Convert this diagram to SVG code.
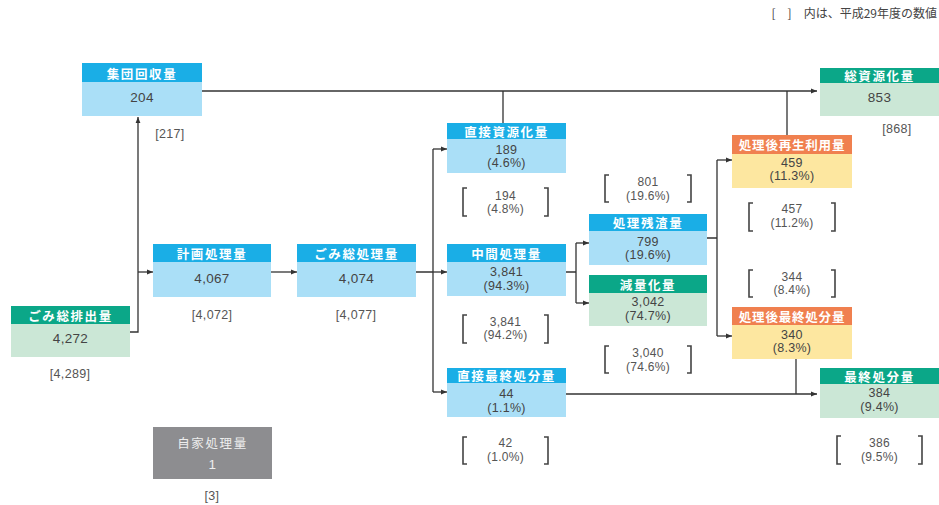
<svg xmlns="http://www.w3.org/2000/svg" width="939" height="505" viewBox="0 0 939 505">
<defs>
<marker id="arr" viewBox="0 0 6 6" refX="6" refY="3" markerWidth="6" markerHeight="6" markerUnits="userSpaceOnUse" orient="auto">
<path d="M0,0.6 L6,3 L0,5.4 Z" fill="#333"/>
</marker>
<style>
text{font-family:"Liberation Sans","Noto Sans CJK JP",sans-serif;}
.hb{fill:#1aaee6;}
.bb{fill:#aadff7;}
.hg{fill:#0ba788;}
.bg{fill:#cbe7d6;}
.ho{fill:#f0804f;}
.bo{fill:#fde7a0;}
.gr{fill:#8d8d90;}
.ht{font-family:"Noto Sans CJK JP",sans-serif;font-size:12.5px;font-weight:bold;fill:#fff;text-anchor:middle;dominant-baseline:central;letter-spacing:1.6px;}
.vt{font-size:13.5px;fill:#444;text-anchor:middle;dominant-baseline:central;letter-spacing:0.3px;}
.v2{font-size:12.5px;fill:#444;text-anchor:middle;dominant-baseline:central;letter-spacing:0.3px;}
.nt{font-size:12.5px;fill:#555;text-anchor:middle;dominant-baseline:central;letter-spacing:0.3px;}
.n2{font-size:12px;fill:#555;text-anchor:middle;dominant-baseline:central;letter-spacing:0.3px;}
.ln{fill:none;stroke:#333;stroke-width:1.3;}
.ar{fill:none;stroke:#333;stroke-width:1.3;marker-end:url(#arr);}
.br{fill:none;stroke:#444;stroke-width:1.6;}
</style>
</defs>
<rect width="939" height="505" fill="#fff"/>
<text x="937" y="12" style="font-family:'Noto Sans CJK JP',sans-serif;font-size:12px;fill:#444;text-anchor:end;dominant-baseline:central;">[　]　内は、平成29年度の数値</text>

<g id="connectors">
<path class="ar" d="M130,332 H138 V117"/>
<path class="ar" d="M138,272 H153"/>
<path class="ar" d="M271,272 H297"/>
<path class="ln" d="M416,272 H433 M433,149 V392"/>
<path class="ar" d="M433,149 H447"/>
<path class="ar" d="M433,272 H447"/>
<path class="ar" d="M433,392 H447"/>
<path class="ar" d="M202,91 H817"/>
<path class="ln" d="M503,123 V91 M787,135 V91"/>
<path class="ln" d="M566,272 H576 M576,243 V303"/>
<path class="ar" d="M576,243 H589"/>
<path class="ar" d="M576,303 H589"/>
<path class="ln" d="M707,238 H717 M717,160 V336"/>
<path class="ar" d="M717,160 H732"/>
<path class="ar" d="M717,336 H732"/>
<path class="ar" d="M566,394 H817"/>
<path class="ln" d="M796,359 V394"/>
</g>

<g id="shudan">
<rect class="bb" x="82" y="63" width="120" height="53"/>
<rect class="hb" x="82" y="63" width="120" height="19"/>
<text class="ht" x="142" y="73">集団回収量</text>
<text class="vt" x="142" y="97">204</text>
<text class="nt" x="170" y="134">[217]</text>
</g>

<g id="haishutsu">
<rect class="bg" x="11" y="306" width="119" height="51"/>
<rect class="hg" x="11" y="306" width="119" height="18"/>
<text class="ht" x="70.5" y="315">ごみ総排出量</text>
<text class="vt" x="70.5" y="338">4,272</text>
<text class="nt" x="70" y="374">[4,289]</text>
</g>

<g id="keikaku">
<rect class="bb" x="153" y="244" width="118" height="53"/>
<rect class="hb" x="153" y="244" width="118" height="18"/>
<text class="ht" x="212" y="253">計画処理量</text>
<text class="vt" x="212" y="278">4,067</text>
<text class="nt" x="212" y="315">[4,072]</text>
</g>

<g id="soshori">
<rect class="bb" x="297" y="244" width="119" height="53"/>
<rect class="hb" x="297" y="244" width="119" height="18"/>
<text class="ht" x="356.5" y="253">ごみ総処理量</text>
<text class="vt" x="356.5" y="278">4,074</text>
<text class="nt" x="356" y="315">[4,077]</text>
</g>

<g id="jika">
<rect class="gr" x="153" y="427" width="119" height="52"/>
<text class="ht" x="212.5" y="442" style="fill:#eee;font-weight:normal;">自家処理量</text>
<text class="vt" x="212.5" y="464" style="fill:#eee;">1</text>
<text class="nt" x="212" y="496">[3]</text>
</g>

<g id="chokushigen">
<rect class="bb" x="447" y="123" width="119" height="50"/>
<rect class="hb" x="447" y="123" width="119" height="16"/>
<text class="ht" x="506.5" y="131">直接資源化量</text>
<text class="v2" x="506.5" y="149.5">189</text>
<text class="v2" x="506.5" y="163">(4.6%)</text>
<path class="br" d="M467,188 H463 V216 H467 M544,188 H548 V216 H544"/>
<text class="n2" x="505.5" y="195.5">194</text>
<text class="n2" x="505.5" y="209">(4.8%)</text>
</g>

<g id="chukan">
<rect class="bb" x="447" y="244" width="119" height="52"/>
<rect class="hb" x="447" y="244" width="119" height="18"/>
<text class="ht" x="506.5" y="253">中間処理量</text>
<text class="v2" x="506.5" y="272">3,841</text>
<text class="v2" x="506.5" y="285.5">(94.3%)</text>
<path class="br" d="M467,315 H463 V343 H467 M544,315 H548 V343 H544"/>
<text class="n2" x="505.5" y="321.5">3,841</text>
<text class="n2" x="505.5" y="335">(94.2%)</text>
</g>

<g id="chokusaishu">
<rect class="bb" x="447" y="368" width="119" height="49"/>
<rect class="hb" x="447" y="368" width="119" height="15"/>
<text class="ht" x="506.5" y="375.5">直接最終処分量</text>
<text class="v2" x="506.5" y="394">44</text>
<text class="v2" x="506.5" y="407.5">(1.1%)</text>
<path class="br" d="M467,437 H463 V464 H467 M544,437 H548 V464 H544"/>
<text class="n2" x="505.5" y="443">42</text>
<text class="n2" x="505.5" y="456.5">(1.0%)</text>
</g>

<g id="zansa">
<path class="br" d="M609,175 H605 V202 H609 M687,175 H691 V202 H687"/>
<text class="n2" x="648" y="182">801</text>
<text class="n2" x="648" y="195.5">(19.6%)</text>
<rect class="bb" x="589" y="214" width="118" height="51"/>
<rect class="hb" x="589" y="214" width="118" height="17"/>
<text class="ht" x="648" y="222.5">処理残渣量</text>
<text class="v2" x="648" y="241.5">799</text>
<text class="v2" x="648" y="255">(19.6%)</text>
</g>

<g id="genryo">
<rect class="bg" x="589" y="275" width="118" height="51"/>
<rect class="hg" x="589" y="275" width="118" height="18"/>
<text class="ht" x="648" y="284">減量化量</text>
<text class="v2" x="648" y="302">3,042</text>
<text class="v2" x="648" y="315.5">(74.7%)</text>
<path class="br" d="M609,346 H605 V373 H609 M687,346 H691 V373 H687"/>
<text class="n2" x="648" y="353">3,040</text>
<text class="n2" x="648" y="366.5">(74.6%)</text>
</g>

<g id="saisei">
<rect class="bo" x="732" y="135" width="120" height="53"/>
<rect class="ho" x="732" y="135" width="120" height="19"/>
<text class="ht" x="792" y="144.5" style="letter-spacing:0.8px;">処理後再生利用量</text>
<text class="v2" x="792" y="162.5">459</text>
<text class="v2" x="792" y="176">(11.3%)</text>
<path class="br" d="M753,203 H749 V231 H753 M831,203 H835 V231 H831"/>
<text class="n2" x="792" y="209">457</text>
<text class="n2" x="792" y="222.5">(11.2%)</text>
</g>

<g id="shorigosaishu">
<path class="br" d="M753,270 H749 V297 H753 M831,270 H835 V297 H831"/>
<text class="n2" x="792" y="276.5">344</text>
<text class="n2" x="792" y="290">(8.4%)</text>
<rect class="bo" x="732" y="307" width="120" height="52"/>
<rect class="ho" x="732" y="307" width="120" height="18"/>
<text class="ht" x="792" y="316" style="letter-spacing:0.8px;">処理後最終処分量</text>
<text class="v2" x="792" y="334.5">340</text>
<text class="v2" x="792" y="348">(8.3%)</text>
</g>

<g id="soshigen">
<rect class="bg" x="820" y="68" width="119" height="48"/>
<rect class="hg" x="820" y="68" width="119" height="15"/>
<text class="ht" x="879.5" y="75.5">総資源化量</text>
<text class="vt" x="879.5" y="97">853</text>
<text class="nt" x="897" y="129">[868]</text>
</g>

<g id="saishu">
<rect class="bg" x="820" y="368" width="119" height="50"/>
<rect class="hg" x="820" y="368" width="119" height="16"/>
<text class="ht" x="879.5" y="376">最終処分量</text>
<text class="v2" x="879.5" y="393">384</text>
<text class="v2" x="879.5" y="406.5">(9.4%)</text>
<path class="br" d="M841,436 H837 V464 H841 M918,436 H922 V464 H918"/>
<text class="n2" x="879.5" y="443">386</text>
<text class="n2" x="879.5" y="456.5">(9.5%)</text>
</g>
</svg>
